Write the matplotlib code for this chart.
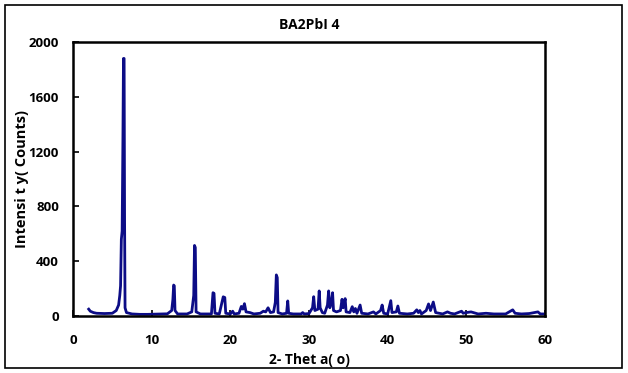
import matplotlib
matplotlib.use("Agg")
import matplotlib.pyplot as plt
from matplotlib.patches import Rectangle

plt.rcParams['font.family'] = ['Open Sans', 'DejaVu Sans']

title = "BA2PbI 4"
x_label = "2- Thet a( o)"
y_label = "Intensi t y( Counts)"
x_ticks = [0, 10, 20, 30, 40, 50, 60]
y_ticks = [0, 400, 800, 1200, 1600, 2000]

two_theta = [2.0, 2.2, 2.6, 3.0, 4.0, 5.0, 5.5, 5.8, 5.95, 6.05, 6.15, 6.25, 6.35, 6.42, 6.5,
             6.56, 6.62, 6.8, 7.5, 8.5, 9.5, 11.0, 12.0, 12.55, 12.7, 12.8, 12.88, 12.97, 13.3,
             14.5, 15.1, 15.35, 15.45, 15.55, 15.65, 16.2, 17.6, 17.8, 17.93, 18.05, 18.6, 19.1,
             19.3, 19.42, 20.0, 20.3, 20.5, 21.1, 21.4, 21.6, 21.8, 22.0, 22.5, 23.0, 23.8,
             24.2, 24.5, 24.8, 25.1, 25.5, 25.72, 25.85, 25.97, 26.07, 26.6, 27.15, 27.3, 27.42,
             28.0, 29.0, 29.2, 29.4, 30.0, 30.45, 30.6, 30.75, 31.15, 31.3, 31.42, 31.7, 32.0,
             32.35, 32.5, 32.65, 32.85, 33.0, 33.12, 33.5, 34.0, 34.2, 34.35, 34.6, 34.72,
             35.2, 35.5, 35.7, 35.9, 36.1, 36.5, 36.7, 37.5, 38.2, 38.5, 39.1, 39.3, 39.5,
             40.0, 40.4, 40.55, 41.1, 41.3, 41.5, 42.5, 43.3, 43.7, 43.9, 44.1, 44.3, 44.9,
             45.2, 45.45, 45.8, 46.1, 47.0, 47.6, 48.0, 48.5, 49.4, 49.6, 50.0, 50.6, 51.5,
             52.5, 53.5, 55.0, 55.9, 56.2, 57.0, 58.0, 59.1, 59.4, 60.0]
intensity = [50, 35, 25, 20, 18, 20, 40, 80, 150, 220, 560, 620, 1300, 1880, 1880,
             700, 60, 25, 15, 12, 12, 14, 16, 40, 120, 226, 220, 40, 15,
             15, 30, 150, 515, 500, 30, 15, 15, 170, 165, 20, 15, 140,
             135, 20, 15, 35, 15, 20, 70, 50, 90, 30, 25, 15, 20,
             35, 30, 60, 25, 30, 100, 300, 280, 25, 15, 20, 110, 20,
             15, 15, 25, 15, 18, 60, 141, 40, 50, 183, 60, 25, 20,
             80, 183, 60, 100, 170, 40, 30, 40, 122, 60, 127, 30,
             25, 68, 30, 55, 20, 80, 20, 15, 30, 15, 40, 80, 20,
             15, 112, 25, 30, 73, 20, 15, 20, 45, 25, 40, 15, 40,
             88, 40, 102, 25, 15, 30, 20, 15, 35, 20, 25, 30, 15,
             20, 15, 15, 45, 20, 15, 18, 30, 15, 15]

fig = plt.figure(figsize=(6.28, 3.73), dpi=100)
ax = fig.add_axes([0.1162, 0.1528, 0.7516, 0.7346])

ax.plot(two_theta, intensity, color='#0c0c86', linewidth=2.0, solid_joinstyle='round')

ax.set_xlim(0, 60)
ax.set_ylim(0, 2000)
ax.set_xticks(x_ticks)
ax.set_yticks(y_ticks)
ax.tick_params(axis='both', direction='in', length=4, width=1.2, labelsize=9.5,
               top=False, right=False)
ax.tick_params(axis='x', pad=13)
ax.tick_params(axis='y', pad=10)
for lab in ax.get_xticklabels() + ax.get_yticklabels():
    lab.set_fontweight('bold')
for sp in ax.spines.values():
    sp.set_linewidth(1.8)
    sp.set_color('black')

ax.set_title(title, fontsize=10, fontweight='bold', pad=9)
ax.set_xlabel(x_label, fontsize=10, fontweight='bold', labelpad=4)
ax.set_ylabel(y_label, fontsize=10.5, fontweight='bold', labelpad=0)

fig.patches.append(Rectangle((0.008, 0.013), 0.982, 0.974, transform=fig.transFigure,
                             fill=False, edgecolor='black', linewidth=1.2))

fig.savefig("out.png", dpi=100)
